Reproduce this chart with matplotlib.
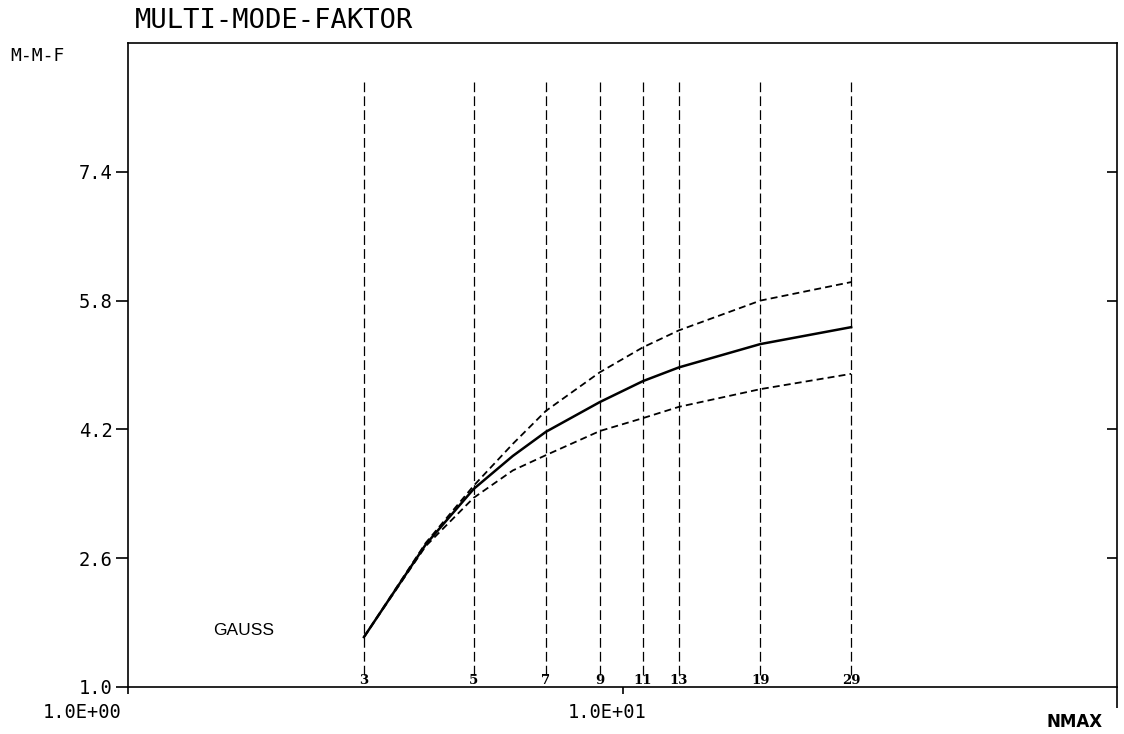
import numpy as np
import matplotlib
matplotlib.use('Agg')
import matplotlib.pyplot as plt

plt.rcParams['lines.scale_dashes'] = False

# values
nmax = [3, 4, 5, 6, 7, 9, 11, 13, 19, 29]
mmf_upper = [1.62, 2.79, 3.50, 4.02, 4.43, 4.91, 5.22, 5.43, 5.80, 6.03]
mmf_mid = [1.62, 2.77, 3.46, 3.87, 4.17, 4.54, 4.80, 4.97, 5.26, 5.47]
mmf_lower = [1.62, 2.75, 3.35, 3.69, 3.88, 4.18, 4.34, 4.48, 4.70, 4.89]

# vertical marker lines for the computed N values
n_lines = [3, 5, 7, 9, 11, 13, 19, 29]

yticks = [1.0, 2.6, 4.2, 5.8, 7.4]
ytick_labels = ['1.0', '2.6', '4.2', '5.8', '7.4']
xtick_vals = [1, 10]
xtick_labels = ['1.0E+00', '1.0E+01']

mono = 'DejaVu Sans Mono'

fig = plt.figure(figsize=(11.24, 7.34), dpi=100)
ax = fig.add_axes([128/1124, 1-687/734, (1117-128)/1124, (687-43)/734])

ax.set_xscale('log')
ax.set_xlim(1, 100)
ax.set_ylim(1, 9)
for s in ax.spines.values():
    s.set_linewidth(1.2)
    s.set_color('black')

# vertical dashed lines with their labels
for n in n_lines:
    ax.axvline(n, ymin=0.019, ymax=0.939, color='black', lw=0.9,
               dashes=(7, 3))
    ax.text(n, 0.0, str(n), transform=ax.get_xaxis_transform(),
            ha='center', va='bottom', fontsize=9.5, fontweight='bold',
            family='DejaVu Serif')

# curves
ax.plot(nmax, mmf_upper, color='black', lw=1.3, dashes=(5, 3))
ax.plot(nmax, mmf_mid, color='black', lw=1.8)
ax.plot(nmax, mmf_lower, color='black', lw=1.3, dashes=(5, 3))

# y axis ticks
ax.set_yticks(yticks)
ax.set_yticklabels(ytick_labels, family=mono, fontsize=13.5)
ax.tick_params(axis='y', direction='out', length=9, width=1.2, pad=2)

# x axis ticks; labels placed by hand below
ax.set_xticks([1, 10, 100])
ax.set_xticklabels(['', '', ''])
ax.xaxis.set_minor_locator(matplotlib.ticker.NullLocator())
ax.tick_params(axis='x', direction='out', length=5, width=1.2)
ax.xaxis.get_major_ticks()[2].tick1line.set_markersize(15)

for xv, lbl, dx in zip(xtick_vals, xtick_labels, [-46, -15]):
    ax.annotate(lbl, xy=(xv, 0), xycoords=('data', 'axes fraction'),
                xytext=(dx, -26), textcoords='offset pixels',
                ha='center', va='center', family=mono, fontsize=13.5)

# inward ticks on the right side
ax2 = ax.twinx()
ax2.set_ylim(1, 9)
ax2.set_yticks(yticks[1:])
ax2.set_yticklabels([])
ax2.tick_params(axis='y', direction='in', length=7, width=1.2)
for s in ax2.spines.values():
    s.set_visible(False)

# texts
fig.text(135/1124, 1-28/734, 'MULTI-MODE-FAKTOR', family=mono,
         fontsize=19.5, va='baseline', ha='left')
fig.text(10/1124, 1-56/734, 'M-M-F', family=mono, fontsize=13,
         va='center', ha='left')
fig.text(1075/1124, 1-722/734, 'NMAX', family='DejaVu Sans',
         fontsize=12, fontweight='bold', va='center', ha='center')
ax.text(0.086, 0.087, 'GAUSS', transform=ax.transAxes,
        family='Liberation Sans', fontsize=12.5, va='center', ha='left')

fig.savefig('out.png', dpi=100, facecolor='white')
